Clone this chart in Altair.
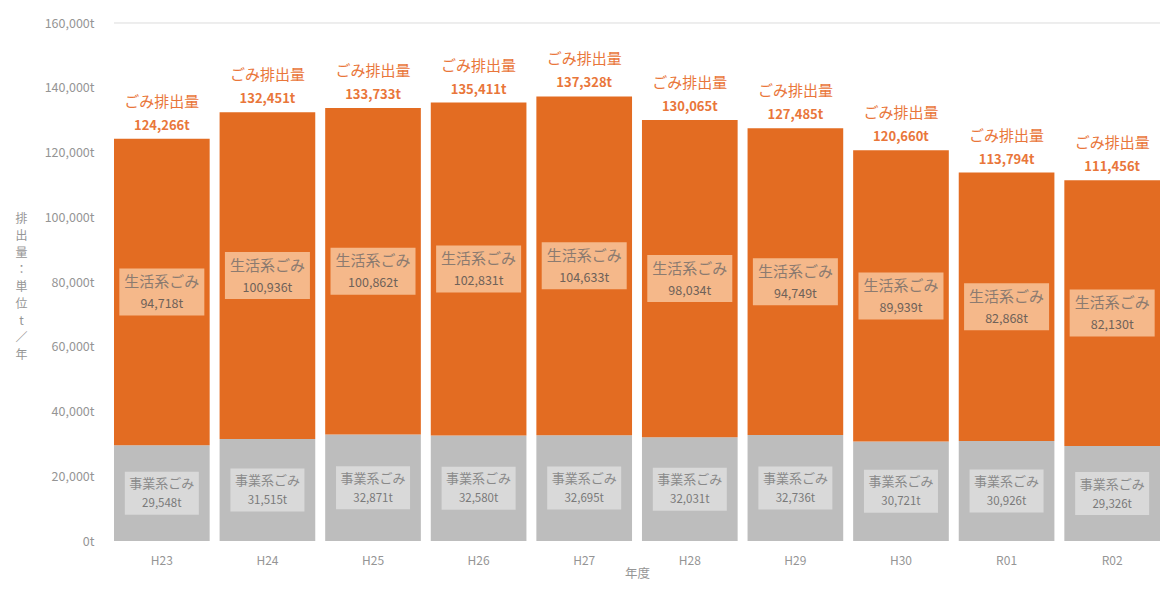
import altair as alt
import pandas as pd

years = ["H23", "H24", "H25", "H26", "H27", "H28", "H29", "H30", "R01", "R02"]
household = [94718, 100936, 100862, 102831, 104633, 98034, 94749, 89939, 82868, 82130]
business = [29548, 31515, 32871, 32580, 32695, 32031, 32736, 30721, 30926, 29326]
total = [124266, 132451, 133733, 135411, 137328, 130065, 127485, 120660, 113794, 111456]
y_ticks = [0, 20000, 40000, 60000, 80000, 100000, 120000, 140000, 160000]

df = pd.DataFrame({
    "year": years,
    "household": household,
    "business": business,
    "total": total,
})

FONT = "Noto Sans CJK JP"
ORANGE = "#E36C22"
GRAY = "#BDBDBD"
PEACH = "#F5B88A"
LIGHTGRAY = "#D9D9D9"
LABEL_ORANGE = "#E9763A"
AXIS_GRAY = "#959595"

base = alt.Chart(df).transform_calculate(
    hh_mid="datum.business + datum.household / 2",
    bz_mid="datum.business / 2",
    total_txt="format(datum.total, ',') + 't'",
    hh_txt="format(datum.household, ',') + 't'",
    bz_txt="format(datum.business, ',') + 't'",
)

x_enc = alt.X(
    "year:N",
    sort=years,
    title="年度",
    scale=alt.Scale(paddingInner=0.094, paddingOuter=0),
    axis=alt.Axis(
        labelAngle=0, ticks=False, domain=False, labelPadding=14,
        labelColor=AXIS_GRAY, labelFontSize=12, labelFont=FONT,
        titleColor=AXIS_GRAY, titleFontSize=12.5, titleFont=FONT,
        titleFontWeight="normal", titleY=32, titleBaseline="middle",
    ),
)

y_scale = alt.Scale(domain=[0, 160000], nice=False)

ytitle = list("排出量：単位t／年")

grid = base.mark_rule(color="#EDEDED", strokeWidth=1).encode(
    y=alt.datum(160000, scale=y_scale),
)

bz_bar = base.mark_bar(color=GRAY).encode(
    x=x_enc,
    y=alt.Y(
        "business:Q",
        scale=y_scale,
        title=ytitle,
        axis=alt.Axis(
            values=y_ticks, labelExpr="format(datum.value, ',') + 't'",
            ticks=False, domain=False, grid=False, labelPadding=20,
            labelColor=AXIS_GRAY, labelFontSize=12.5, labelFont=FONT,
            titleColor=AXIS_GRAY, titleFontSize=12, titleFont=FONT,
            titleFontWeight="normal", titleAngle=0, titleLineHeight=17,
            titleX=-93, titleY=190, titleBaseline="top", titleAlign="center",
        ),
    ),
)

hh_bar = base.mark_bar(color=ORANGE).encode(
    x=alt.X("year:N", sort=years),
    y=alt.Y("total:Q", scale=y_scale),
    y2="business:Q",
)

hh_box = base.mark_point(
    shape="M-1,-0.553L1,-0.553L1,0.553L-1,0.553Z",
    filled=True, size=85 * 85, opacity=1, color=PEACH, strokeWidth=0,
).encode(x=alt.X("year:N", sort=years), y=alt.Y("hh_mid:Q", scale=y_scale))

bz_box = base.mark_point(
    shape="M-1,-0.581L1,-0.581L1,0.581L-1,0.581Z",
    filled=True, size=74 * 74, opacity=1, color=LIGHTGRAY, strokeWidth=0,
).encode(x=alt.X("year:N", sort=years), y=alt.Y("bz_mid:Q", scale=y_scale))

hh_t1 = base.mark_text(
    text="生活系ごみ", font=FONT, fontSize=15, color="#8C7B70", dy=-10,
).encode(x=alt.X("year:N", sort=years), y=alt.Y("hh_mid:Q", scale=y_scale))

hh_t2 = base.mark_text(
    font=FONT, fontSize=12.5, color="#6F6259", dy=12,
).encode(x=alt.X("year:N", sort=years), y=alt.Y("hh_mid:Q", scale=y_scale),
         text="hh_txt:N")

bz_t1 = base.mark_text(
    text="事業系ごみ", font=FONT, fontSize=13, color="#8A8A8A", dy=-9,
).encode(x=alt.X("year:N", sort=years), y=alt.Y("bz_mid:Q", scale=y_scale))

bz_t2 = base.mark_text(
    font=FONT, fontSize=11.5, color="#7A7A7A", dy=11,
).encode(x=alt.X("year:N", sort=years), y=alt.Y("bz_mid:Q", scale=y_scale),
         text="bz_txt:N")

tot_t1 = base.mark_text(
    text="ごみ排出量", font=FONT, fontSize=15, color=LABEL_ORANGE, dy=-37,
).encode(x=alt.X("year:N", sort=years), y=alt.Y("total:Q", scale=y_scale))

tot_t2 = base.mark_text(
    font=FONT, fontSize=13, fontWeight="bold", color=LABEL_ORANGE, dy=-13,
).encode(x=alt.X("year:N", sort=years), y=alt.Y("total:Q", scale=y_scale),
         text="total_txt:N")

chart = alt.layer(
    grid, bz_bar, hh_bar, hh_box, bz_box, hh_t1, hh_t2, bz_t1, bz_t2, tot_t1, tot_t2
).properties(
    width=1046,
    height=518,
    autosize=alt.AutoSizeParams(type="none"),
    padding={"left": 106, "top": 15, "right": 2, "bottom": 43},
    background="white",
).configure_view(stroke=None)

chart.save("out.html", embed_options={"renderer": "svg", "actions": False})
